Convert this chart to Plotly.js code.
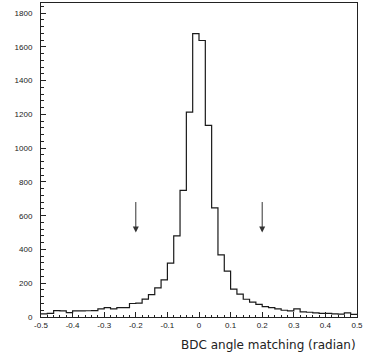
<!DOCTYPE html>
<html>
<head>
<meta charset="utf-8">
<script src="https://cdn.plot.ly/plotly-3.0.1.min.js"></script>
<style>html,body{margin:0;padding:0;background:#fff;}#chart{width:365px;height:358px;}</style>
</head>
<body>
<div id="chart"></div>
<script>
// Histogram definition: 50 bins of width 0.02 from -0.5 to 0.5
const binStart = -0.5;
const binWidth = 0.02;
const counts = [
  18, 22, 38, 36, 26, 36, 36, 37, 38, 48,
  56, 48, 55, 55, 80, 82, 106, 133, 172, 220,
  319, 481, 750, 1214, 1678, 1638, 1135, 646, 368, 272,
  165, 135, 105, 88, 75, 62, 55, 48, 40, 36,
  48, 30, 28, 25, 22, 22, 18, 17, 25, 15
];
// Cut positions marked by arrows
const arrowX = [-0.2, 0.2];
const arrowTop = 690;
const arrowTip = 500;
const xTickVals = [-0.5, -0.4, -0.3, -0.2, -0.1, 0, 0.1, 0.2, 0.3, 0.4, 0.5];
const xTickText = ["-0.5", "-0.4", "-0.3", "-0.2", "-0.1", "0", "0.1", "0.2", "0.3", "0.4", "0.5"];
const yTickVals = [0, 200, 400, 600, 800, 1000, 1200, 1400, 1600, 1800];
const xTitle = "BDC angle matching (radian)";

// step outline from bin edges
const edges = counts.map((_, i) => +(binStart + i * binWidth).toFixed(4));
edges.push(+(binStart + counts.length * binWidth).toFixed(4));
const stepY = counts.concat([counts[counts.length - 1]]);

const trace = {
  type: 'scatter',
  mode: 'lines',
  x: edges,
  y: stepY,
  line: {shape: 'hv', color: '#1a1a1a', width: 1.2},
  hoverinfo: 'skip'
};

const annotations = arrowX.map(x => ({
  x: x, y: arrowTip, xref: 'x', yref: 'y',
  ax: x, ay: arrowTop, axref: 'x', ayref: 'y',
  showarrow: true, arrowhead: 2, arrowsize: 1.2, arrowwidth: 1,
  arrowcolor: '#333', text: ''
}));
annotations.push({
  text: xTitle, xref: 'paper', yref: 'paper',
  x: 1.003, y: -0.089, xanchor: 'right', yanchor: 'middle',
  showarrow: false,
  font: {family: 'DejaVu Sans, sans-serif', size: 12, color: '#222'}
});

const layout = {
  width: 365, height: 358,
  margin: {l: 41, r: 8, t: 3, b: 41},
  paper_bgcolor: '#fff', plot_bgcolor: '#fff',
  showlegend: false,
  xaxis: {
    range: [-0.5, 0.5],
    tickmode: 'array', tickvals: xTickVals, ticktext: xTickText,
    ticks: 'inside', ticklen: 5, tickwidth: 1, tickcolor: '#222',
    minor: {dtick: 0.02, ticks: 'inside', ticklen: 2.5, tickcolor: '#222', showgrid: false},
    showline: true, linecolor: '#222', linewidth: 1, mirror: true,
    showgrid: false, zeroline: false,
    tickfont: {family: 'Liberation Sans, Arial, sans-serif', size: 8, color: '#222'},
    ticklabelstandoff: 0
  },
  yaxis: {
    range: [0, 1860],
    tickmode: 'array', tickvals: yTickVals,
    ticks: 'inside', ticklen: 5, tickwidth: 1, tickcolor: '#222',
    minor: {dtick: 40, ticks: 'inside', ticklen: 2.5, tickcolor: '#222', showgrid: false},
    showline: true, linecolor: '#222', linewidth: 1, mirror: true,
    showgrid: false, zeroline: false,
    tickfont: {family: 'Liberation Sans, Arial, sans-serif', size: 8, color: '#222'},
    ticklabelstandoff: 6
  },
  annotations: annotations
};

Plotly.newPlot('chart', [trace], layout, {staticPlot: true, displayModeBar: false});
</script>
</body>
</html>
